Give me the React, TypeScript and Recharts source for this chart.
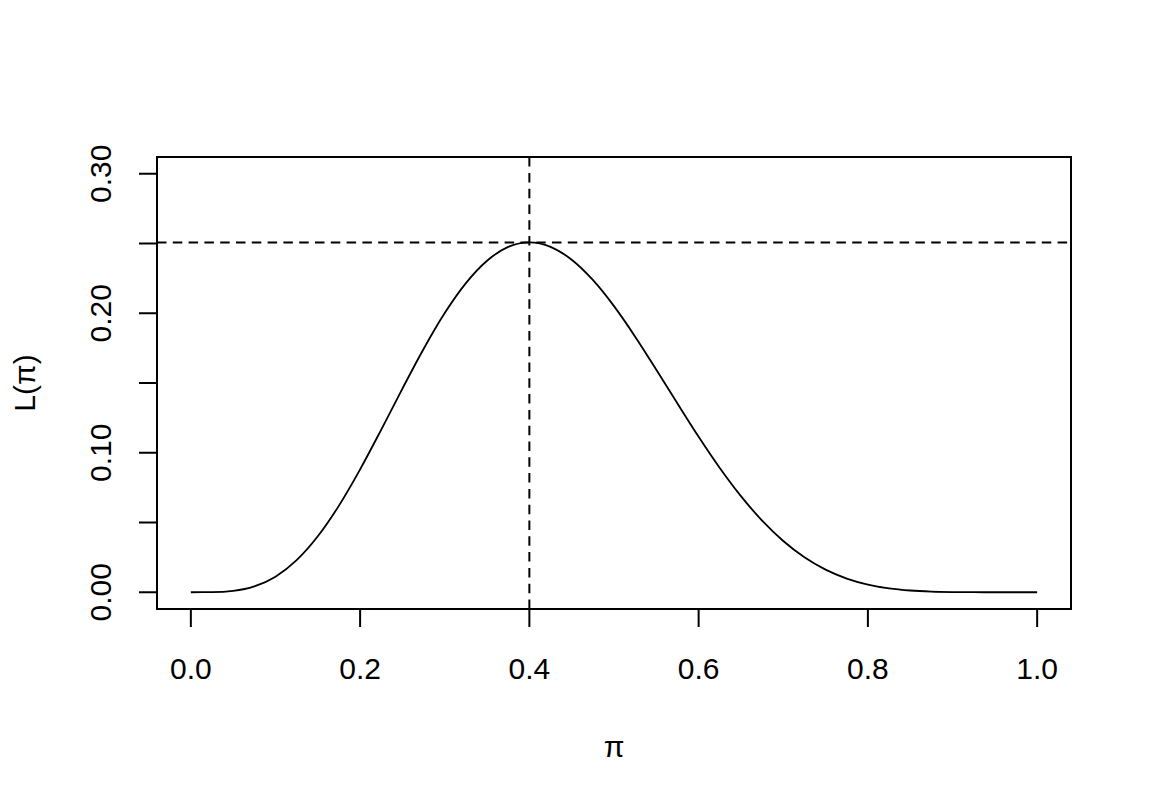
import React from "react";
import { LineChart, Line, XAxis, YAxis, ReferenceLine, ReferenceArea } from "recharts";

// valores (paso 0.025)
const piValues = [
  0, 0.025, 0.05, 0.075, 0.1, 0.125, 0.15, 0.175, 0.2, 0.225, 0.25, 0.275, 0.3, 0.325, 0.35, 0.375, 0.4,
  0.425, 0.45, 0.475, 0.5, 0.525, 0.55, 0.575, 0.6, 0.625, 0.65, 0.675, 0.7, 0.725, 0.75, 0.775, 0.8,
  0.825, 0.85, 0.875, 0.9, 0.925, 0.95, 0.975, 1,
];
const likelihood = [
  0, 0.00007, 0.00097, 0.00416, 0.01116, 0.02301, 0.0401, 0.0621, 0.08808, 0.11662, 0.146, 0.17441,
  0.20012, 0.22161, 0.23767, 0.24753, 0.2508, 0.24761, 0.23837, 0.22385, 0.20508, 0.18324, 0.15957,
  0.13528, 0.11148, 0.08911, 0.06891, 0.05137, 0.03676, 0.02509, 0.01622, 0.00983, 0.00551, 0.00279,
  0.00125, 0.00047, 0.00014, 0.00003, 0, 0, 0,
];
const xTicks = [0, 0.2, 0.4, 0.6, 0.8, 1];
const yTicks = [0, 0.05, 0.1, 0.15, 0.2, 0.25, 0.3];
const yLabels = [0, 0.1, 0.2, 0.3];
const peakX = 0.4;
const peakY = 0.2508;

const data = piValues.map((p, i) => ({ p, L: likelihood[i] }));

const FONT = '"Liberation Sans", Arial, sans-serif';

const XTick = ({ x, y, payload }: any) => (
  <text x={x} y={y + 50} textAnchor="middle" fontSize={30} fontFamily={FONT} fill="#000">
    {payload.value.toFixed(1)}
  </text>
);

const YTick = ({ y, payload }: any) => {
  if (!yLabels.some((v) => Math.abs(v - payload.value) < 1e-9)) return null;
  return (
    <text
      x={111}
      y={y}
      transform={`rotate(-90, 111, ${y})`}
      textAnchor="middle"
      fontSize={30}
      fontFamily={FONT}
      fill="#000"
    >
      {payload.value.toFixed(2)}
    </text>
  );
};

export default function App() {
  return (
    <div style={{ position: "absolute", left: 0, top: 0, width: 1152, height: 806, background: "#fff" }}>
      <LineChart width={1152} height={806} data={data} margin={{ top: 157, right: 81, bottom: 137, left: 97 }}>
        <XAxis
          dataKey="p"
          type="number"
          domain={[-0.04, 1.04]}
          ticks={xTicks}
          allowDataOverflow
          height={60}
          tickSize={18}
          axisLine={false}
          tickLine={{ stroke: "#000", strokeWidth: 2 }}
          tick={<XTick />}
        />
        <YAxis
          type="number"
          domain={[-0.012, 0.312]}
          ticks={yTicks}
          allowDataOverflow
          width={60}
          tickSize={18}
          axisLine={false}
          tickLine={{ stroke: "#000", strokeWidth: 2 }}
          tick={<YTick />}
        />
        <ReferenceArea
          x1={-0.04}
          x2={1.04}
          y1={-0.012}
          y2={0.312}
          fill="none"
          fillOpacity={0}
          stroke="#000"
          strokeWidth={2}
        />
        <ReferenceLine x={peakX} stroke="#000" strokeWidth={2} strokeDasharray="9.5 6.3" />
        <ReferenceLine y={peakY} stroke="#000" strokeWidth={2} strokeDasharray="9.5 6.3" />
        <Line
          type="monotone"
          dataKey="L"
          stroke="#000"
          strokeWidth={1.8}
          dot={false}
          isAnimationActive={false}
        />
      </LineChart>
      <div
        style={{
          position: "absolute",
          left: 0,
          top: 0,
          width: 1152,
          height: 806,
          pointerEvents: "none",
        }}
      >
        <svg width={1152} height={806}>
          <text x={614} y={757} textAnchor="middle" fontSize={30} fontFamily={FONT} fill="#000">
            π
          </text>
          <text
            x={35}
            y={383}
            transform="rotate(-90, 35, 383)"
            textAnchor="middle"
            fontSize={30}
            fontFamily={FONT}
            fill="#000"
          >
            L(π)
          </text>
        </svg>
      </div>
    </div>
  );
}
